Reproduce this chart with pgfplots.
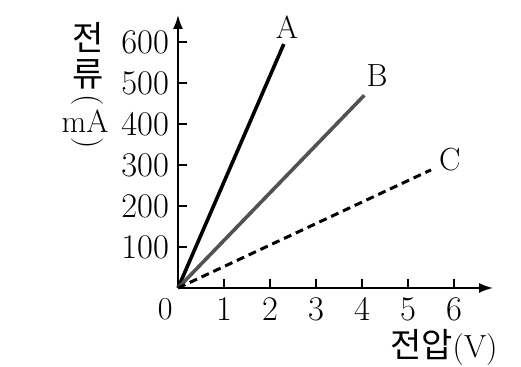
\documentclass[border=0pt]{standalone}
\usepackage{pgfplots}
\pgfplotsset{compat=1.18}
\usetikzlibrary{arrows.meta}
\usepackage{fontspec}
\newfontfamily\kr{Noto Sans CJK KR}
\begin{document}
\fontsize{16}{19}\selectfont
\begin{tikzpicture}
\begin{axis}[
 x=23pt, y=0.205pt,
 xmin=0, xmax=6.85, ymin=0, ymax=666,
 axis lines=left,
 axis line style={line width=1pt, -{Latex[length=7pt,width=5pt]}},
 clip=false,
 xtick={1,2,3,4,5,6}, ytick={100,200,300,400,500,600},
 tick align=inside, major tick length=4.5pt,
 tick style={line width=0.8pt, black},
 ticklabel style={font=\fontsize{16}{19}\selectfont},
 xticklabel style={yshift=0.5pt},
 yticklabel style={xshift=1pt},
]
\addplot[black, line width=1.8pt] coordinates {(0,0) (2.3,595)};
\addplot[black!68, line width=1.8pt] coordinates {(0,0) (4.05,470)};
\addplot[black, line width=1.5pt, dash pattern=on 4pt off 2.5pt] coordinates {(0,0) (5.5,288)};
\coordinate (O) at (axis cs:0,0);
\node at (axis cs:-0.28,-52) {0};
\node at (axis cs:2.37,637) {A};
\node at (axis cs:4.33,517) {B};
\node at (axis cs:5.91,312) {C};
\node at (axis cs:5.78,-145) {{\kr\fontsize{17}{20}\selectfont 전압}(V)};
\node at (axis cs:-1.96,610) {\kr\fontsize{17}{20}\selectfont 전};
\node at (axis cs:-1.96,520) {\kr\fontsize{17}{20}\selectfont 류};
\node[rotate=-90] at (axis cs:-1.96,458) {(};
\node at (axis cs:-2.02,407) {mA};
\node[rotate=-90] at (axis cs:-1.96,354) {)};
\end{axis}
\pgfresetboundingbox
\path[use as bounding box] (O) ++(-89pt,144pt) rectangle ++(260.5pt,-183.5pt);
\end{tikzpicture}
\end{document}
